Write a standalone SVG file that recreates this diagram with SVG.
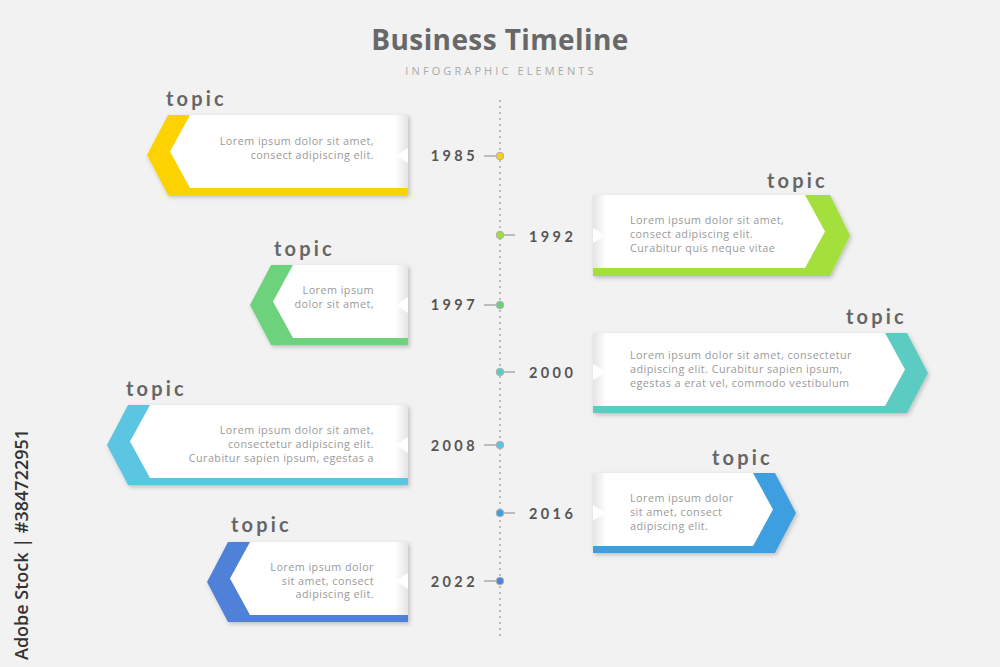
<svg xmlns="http://www.w3.org/2000/svg" width="1000" height="667" viewBox="0 0 1000 667">
<defs>
<filter id="sh" x="-10%" y="-20%" width="125%" height="150%">
<feDropShadow dx="1.5" dy="2" stdDeviation="2" flood-color="#000" flood-opacity="0.22"/>
</filter>
<linearGradient id="gl" x1="0" y1="0" x2="1" y2="0">
<stop offset="0" stop-color="#ffffff"/>
<stop offset="1" stop-color="#e4e4e4"/>
</linearGradient>
<linearGradient id="gr" x1="1" y1="0" x2="0" y2="0">
<stop offset="0" stop-color="#ffffff"/>
<stop offset="1" stop-color="#e4e4e4"/>
</linearGradient>
<style>
.title{font-family:"Open Sans",sans-serif;font-weight:700;font-size:28px;letter-spacing:0.4px;fill:#686868}
.sub{font-family:"Open Sans",sans-serif;font-size:11px;letter-spacing:3.1px;fill:#aaaaaa}
.topic{font-family:Lato,"Open Sans",sans-serif;font-weight:700;font-size:20px;letter-spacing:3.2px;fill:#666666}
.year{font-family:Lato,"Open Sans",sans-serif;font-weight:700;font-size:14.5px;letter-spacing:3.4px;fill:#555555}
.body{font-family:"Open Sans",sans-serif;font-size:10.8px;letter-spacing:0.45px;fill:#9a9a9a}
.r{text-anchor:end}
.wm{font-family:"Open Sans",sans-serif;font-weight:600;font-size:18px;fill:#333333}
.white{fill:#ffffff}
.tick{stroke:#aaaaaa;stroke-width:1.5}
.dot{stroke:#b0b0b0;stroke-width:1}
</style>
</defs>
<rect width="1000" height="667" fill="#f2f2f2"/>

<g id="title">
<text class="title" x="500" y="50" text-anchor="middle">Business Timeline</text>
<text class="sub" x="501" y="75" text-anchor="middle">INFOGRAPHIC ELEMENTS</text>
</g>

<g id="connectors">
<line x1="500" y1="100" x2="500" y2="636" stroke="#aaaaaa" stroke-width="1.5" stroke-dasharray="2 4"/>
<line class="tick" x1="484" y1="156" x2="499" y2="156"/>
<line class="tick" x1="499" y1="235" x2="515" y2="235"/>
<line class="tick" x1="484" y1="305" x2="499" y2="305"/>
<line class="tick" x1="499" y1="372" x2="515" y2="372"/>
<line class="tick" x1="484" y1="445" x2="499" y2="445"/>
<line class="tick" x1="499" y1="513" x2="515" y2="513"/>
<line class="tick" x1="484" y1="581" x2="499" y2="581"/>
<circle class="dot" cx="500" cy="156" r="3.8" fill="#f7cf14"/>
<circle class="dot" cx="500" cy="235" r="3.8" fill="#a4dc3c"/>
<circle class="dot" cx="500" cy="305" r="3.8" fill="#6ccf7c"/>
<circle class="dot" cx="500" cy="372" r="3.8" fill="#5ccbc1"/>
<circle class="dot" cx="500" cy="445" r="3.8" fill="#5bc4e3"/>
<circle class="dot" cx="500" cy="513" r="3.8" fill="#3f9fe2"/>
<circle class="dot" cx="500" cy="581" r="3.8" fill="#4f81d9"/>
</g>

<g id="card-1985">
<polygon points="408,115 168,115 147,155 168,195 408,195" fill="#fcd200" filter="url(#sh)"/>
<polygon class="white" points="408,115 190,115 170,151.5 190,188 408,188"/>
<rect x="395" y="115" width="13" height="73" fill="url(#gl)"/>
<polygon class="white" points="408,148 408,163 396,155.5"/>
<text class="topic" x="166" y="106">topic</text>
<text class="body r" x="374" y="145">Lorem ipsum dolor sit amet,</text>
<text class="body r" x="374" y="159">consect adipiscing elit.</text>
<text class="year r" x="478" y="161">1985</text>
</g>

<g id="card-1992">
<polygon points="593,195 830,195 850,235.5 830,276 593,276" fill="#a4e03b" filter="url(#sh)"/>
<polygon class="white" points="593,195 805,195 825,231.5 805,268 593,268"/>
<rect x="593" y="195" width="13" height="73" fill="url(#gr)"/>
<polygon class="white" points="593,228 593,243 605,235.5"/>
<text class="topic" x="767" y="188">topic</text>
<text class="body" x="630" y="224">Lorem ipsum dolor sit amet,</text>
<text class="body" x="630" y="238">consect adipiscing elit.</text>
<text class="body" x="630" y="252">Curabitur quis neque vitae</text>
<text class="year" x="529" y="242">1992</text>
</g>

<g id="card-1997">
<polygon points="408,265 271,265 250,305 271,345 408,345" fill="#6dd27b" filter="url(#sh)"/>
<polygon class="white" points="408,265 293,265 273,301.5 293,338 408,338"/>
<rect x="395" y="265" width="13" height="73" fill="url(#gl)"/>
<polygon class="white" points="408,297 408,313 396,305"/>
<text class="topic" x="274" y="256">topic</text>
<text class="body r" x="374" y="294">Lorem ipsum</text>
<text class="body r" x="374" y="308">dolor sit amet,</text>
<text class="year r" x="478" y="310">1997</text>
</g>

<g id="card-2000">
<polygon points="593,333 907,333 928,373 907,413 593,413" fill="#5ccbc1" filter="url(#sh)"/>
<polygon class="white" points="593,333 885,333 905,369.5 885,406 593,406"/>
<rect x="593" y="333" width="13" height="73" fill="url(#gr)"/>
<polygon class="white" points="593,364 593,380 605,372"/>
<text class="topic" x="846" y="324">topic</text>
<text class="body" x="630" y="359">Lorem ipsum dolor sit amet, consectetur</text>
<text class="body" x="630" y="373">adipiscing elit. Curabitur sapien ipsum,</text>
<text class="body" x="630" y="387">egestas a erat vel, commodo vestibulum</text>
<text class="year" x="529" y="378">2000</text>
</g>

<g id="card-2008">
<polygon points="408,405 128,405 107,445 128,485 408,485" fill="#5bc5e2" filter="url(#sh)"/>
<polygon class="white" points="408,405 150,405 130,441.5 150,478 408,478"/>
<rect x="395" y="405" width="13" height="73" fill="url(#gl)"/>
<polygon class="white" points="408,437 408,453 396,445"/>
<text class="topic" x="126" y="396">topic</text>
<text class="body r" x="374" y="434">Lorem ipsum dolor sit amet,</text>
<text class="body r" x="374" y="448">consectetur adipiscing elit.</text>
<text class="body r" x="374" y="462">Curabitur sapien ipsum, egestas a</text>
<text class="year r" x="478" y="451">2008</text>
</g>

<g id="card-2016">
<polygon points="593,473 775,473 796,513 775,553 593,553" fill="#3d9fe0" filter="url(#sh)"/>
<polygon class="white" points="593,473 753,473 773,509.5 753,546 593,546"/>
<rect x="593" y="473" width="13" height="73" fill="url(#gr)"/>
<polygon class="white" points="593,505 593,521 605,513"/>
<text class="topic" x="712" y="465">topic</text>
<text class="body" x="630" y="502">Lorem ipsum dolor</text>
<text class="body" x="630" y="516">sit amet, consect</text>
<text class="body" x="630" y="530">adipiscing elit.</text>
<text class="year" x="529" y="519">2016</text>
</g>

<g id="card-2022">
<polygon points="408,542 228,542 207,582 228,622 408,622" fill="#4f81d9" filter="url(#sh)"/>
<polygon class="white" points="408,542 250,542 230,578.5 250,615 408,615"/>
<rect x="395" y="542" width="13" height="73" fill="url(#gl)"/>
<polygon class="white" points="408,573 408,589 396,581"/>
<text class="topic" x="231" y="532">topic</text>
<text class="body r" x="374" y="571">Lorem ipsum dolor</text>
<text class="body r" x="374" y="585">sit amet, consect</text>
<text class="body r" x="374" y="598">adipiscing elit.</text>
<text class="year r" x="478" y="587">2022</text>
</g>

<text class="wm" transform="translate(28,660) rotate(-90)">Adobe Stock | #384722951</text>
</svg>
